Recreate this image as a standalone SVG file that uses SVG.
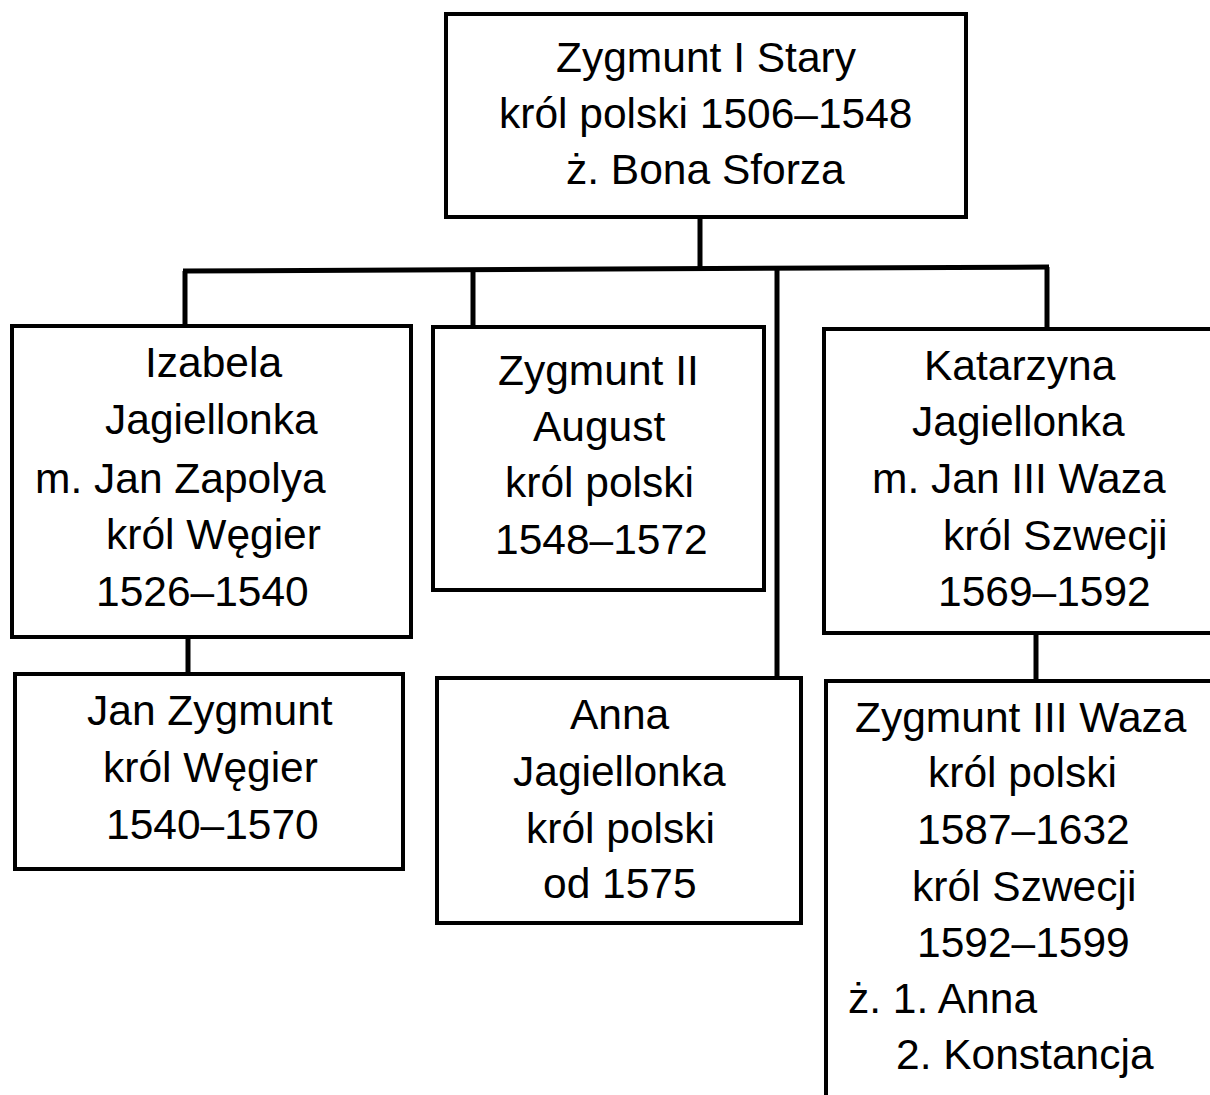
<svg xmlns="http://www.w3.org/2000/svg" width="1210" height="1095" viewBox="0 0 1210 1095">
<style>
.box{fill:#fff;stroke:#000;stroke-width:4}
.t{font-family:"Liberation Sans",Arial,sans-serif;font-size:42.5px;fill:#000}
.c{stroke:#000;stroke-width:5;fill:none}
</style>
<rect width="1210" height="1095" fill="#fff"/>
<g id="connectors">
<line class="c" x1="700" y1="217" x2="700" y2="269"/>
<line class="c" x1="183" y1="271" x2="1049" y2="267"/>
<line class="c" x1="185" y1="271" x2="185" y2="326"/>
<line class="c" x1="473" y1="270" x2="473" y2="327"/>
<line class="c" x1="777" y1="269" x2="777" y2="678"/>
<line class="c" x1="1047" y1="267" x2="1047" y2="329"/>
<line class="c" x1="188" y1="637" x2="188" y2="674"/>
<line class="c" x1="1036" y1="633" x2="1036" y2="681"/>
</g>
<g id="zygmunt1">
<rect class="box" x="446" y="14" width="520" height="203"/>
<text class="t" x="556" y="72">Zygmunt I Stary</text>
<text class="t" x="499" y="128">król polski 1506–1548</text>
<text class="t" x="566" y="184">ż. Bona Sforza</text>
</g>
<g id="izabela">
<rect class="box" x="12" y="326" width="399" height="311"/>
<text class="t" x="145" y="377">Izabela</text>
<text class="t" x="105" y="434">Jagiellonka</text>
<text class="t" x="35" y="493">m. Jan Zapolya</text>
<text class="t" x="106" y="549">król Węgier</text>
<text class="t" x="96" y="606">1526–1540</text>
</g>
<g id="zygmunt2">
<rect class="box" x="433" y="327" width="331" height="263"/>
<text class="t" x="498" y="385">Zygmunt II</text>
<text class="t" x="533" y="441">August</text>
<text class="t" x="505" y="497">król polski</text>
<text class="t" x="495" y="554">1548–1572</text>
</g>
<g id="katarzyna">
<rect class="box" x="824" y="329" width="400" height="304"/>
<text class="t" x="924" y="380">Katarzyna</text>
<text class="t" x="912" y="436">Jagiellonka</text>
<text class="t" x="872" y="493">m. Jan III Waza</text>
<text class="t" x="943" y="550">król Szwecji</text>
<text class="t" x="938" y="606">1569–1592</text>
</g>
<g id="janzygmunt">
<rect class="box" x="15" y="674" width="388" height="195"/>
<text class="t" x="87" y="725">Jan Zygmunt</text>
<text class="t" x="103" y="782">król Węgier</text>
<text class="t" x="106" y="839">1540–1570</text>
</g>
<g id="anna">
<rect class="box" x="437" y="678" width="364" height="245"/>
<text class="t" x="570" y="729">Anna</text>
<text class="t" x="513" y="786">Jagiellonka</text>
<text class="t" x="526" y="843">król polski</text>
<text class="t" x="543" y="898">od 1575</text>
</g>
<g id="zygmunt3">
<rect class="box" x="826" y="681" width="400" height="450"/>
<text class="t" x="855" y="732">Zygmunt III Waza</text>
<text class="t" x="928" y="787">król polski</text>
<text class="t" x="917" y="844">1587–1632</text>
<text class="t" x="912" y="901">król Szwecji</text>
<text class="t" x="917" y="957">1592–1599</text>
<text class="t" x="848" y="1013">ż. 1. Anna</text>
<text class="t" x="896" y="1069">2. Konstancja</text>
</g>
</svg>
